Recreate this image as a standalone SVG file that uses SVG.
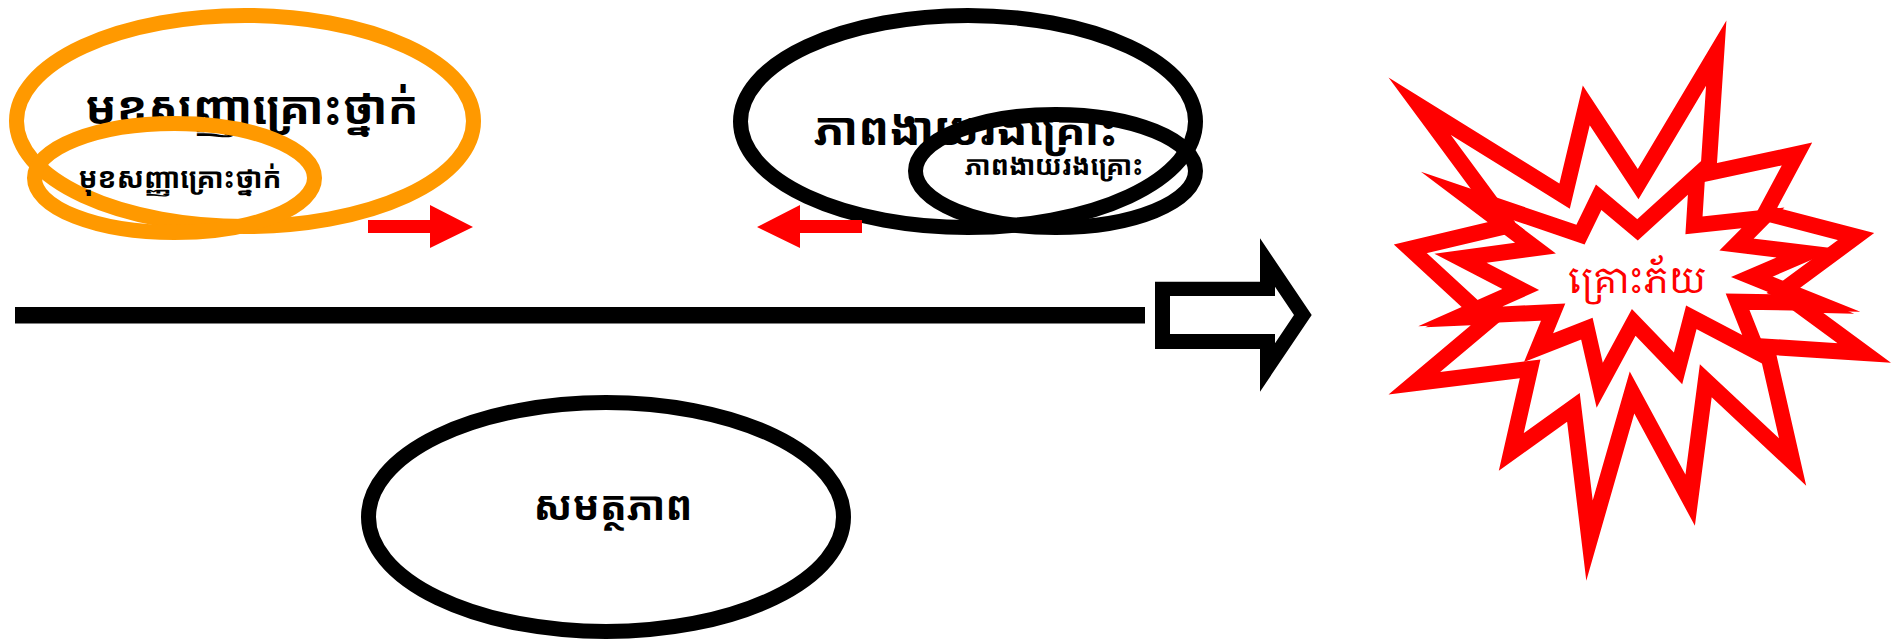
<svg xmlns="http://www.w3.org/2000/svg" width="1899" height="639" viewBox="0 0 1899 639">
<style>
.ell{fill:none;stroke-width:15}
.org{stroke:#FF9900}
.blk{stroke:#000000}
.km{font-family:"Noto Sans Khmer","Khmer OS","Khmer OS System","Noto Serif Khmer","DejaVu Sans",sans-serif;font-weight:bold;fill:#000;text-anchor:middle}
.kr{font-family:"Noto Serif Khmer","Khmer OS","Noto Sans Khmer","DejaVu Serif",serif;fill:#FF0000;text-anchor:middle}
.star{fill:none;stroke:#FF0000;stroke-width:32;stroke-linejoin:miter;stroke-miterlimit:40}
.red{fill:#FF0000}
</style>
<defs>
<polygon id="outerStar" points="1388.5,77.4 1559.4,183.4 1582.8,85.6 1637.8,169.1 1726.4,20.4 1717,163 1812.2,142.6 1777.2,207.8 1874.2,233.1 1798.2,289.3 1854.2,313.8 1823.4,313 1891,362.7 1776.5,355.3 1806.2,485.7 1711.7,397.3 1694.9,525.7 1634.3,413.6 1586.3,580.7 1567.1,421.8 1498.8,470.7 1519.8,378.2 1388.5,394.5 1470.8,325.2 1425.3,327.2 1463.8,308.9 1393.8,244.5 1488.3,222.1 1426.3,174.4 1471.8,190.3"/>
<polygon id="innerStar" points="1584.6,244.5 1601.4,209.9 1637.8,240.4 1687.9,194.8 1685.4,234.3 1741.5,228.2 1719.4,250.6 1776.5,257.5 1731,277.1 1773.7,294.2 1725.7,293.4 1742.2,335 1686.1,305.6 1673.9,352.5 1631.9,308.9 1602.8,362.7 1592.6,317.8 1553.1,333.3 1565.3,303.6 1502.3,306.4 1539.1,290.1 1486.6,262.8 1555.9,253.5 1510.4,219.2"/>
<clipPath id="clipOuter"><use href="#outerStar"/></clipPath>
<mask id="maskInner" maskUnits="userSpaceOnUse" x="0" y="0" width="1899" height="639">
<rect x="0" y="0" width="1899" height="639" fill="#fff"/>
<use href="#innerStar" fill="#000"/>
</mask>
</defs>
<rect x="0" y="0" width="1899" height="639" fill="#fff"/>

<g id="node-hazard">
<ellipse class="ell org" cx="245" cy="121" rx="228.5" ry="105.5"/>
<text class="km" x="252" y="124" font-size="46">មុខសញ្ញាគ្រោះថ្នាក់</text>
</g>
<g id="node-hazard-small">
<ellipse class="ell org" cx="174.5" cy="178" rx="140" ry="54.5"/>
<text class="km" x="180" y="188" font-size="28">មុខសញ្ញាគ្រោះថ្នាក់</text>
</g>

<g id="node-vulnerability">
<ellipse class="ell blk" cx="968" cy="121.5" rx="227.5" ry="106"/>
<text class="km" x="966" y="145" font-size="46">ភាពងាយរងគ្រោះ</text>
</g>
<g id="node-vulnerability-small">
<ellipse class="ell blk" cx="1055.5" cy="171" rx="140" ry="56.5"/>
<text class="km" x="1054" y="175" font-size="27">ភាពងាយរងគ្រោះ</text>
</g>

<g id="node-capacity">
<ellipse class="ell blk" cx="606" cy="517" rx="237.5" ry="114.5"/>
<text class="km" x="613" y="520" font-size="40">សមត្ថភាព</text>
</g>

<g id="connectors">
<polygon class="red" points="368,220 430,220 430,205 473,227 430,248 430,233 368,233"/>
<polygon class="red" points="862,220 800,220 800,205 757,227 800,248 800,233 862,233"/>
<rect x="15" y="307" width="1130" height="16.5" fill="#000"/>
<path fill="#000" fill-rule="evenodd" d="M1155,281.7 L1260,281.7 L1260,238.3 L1311.7,315 L1260,391.7 L1260,349 L1155,349 Z M1170,296 L1170,334 L1275,334 L1275,343.3 L1294,315 L1275,286.7 L1275,296 Z"/>
</g>

<g id="node-disaster">
<use href="#outerStar" class="star" clip-path="url(#clipOuter)"/>
<use href="#innerStar" class="star" mask="url(#maskInner)"/>
<text class="kr" x="1637" y="293" font-size="36">គ្រោះភ័យ</text>
</g>
</svg>
